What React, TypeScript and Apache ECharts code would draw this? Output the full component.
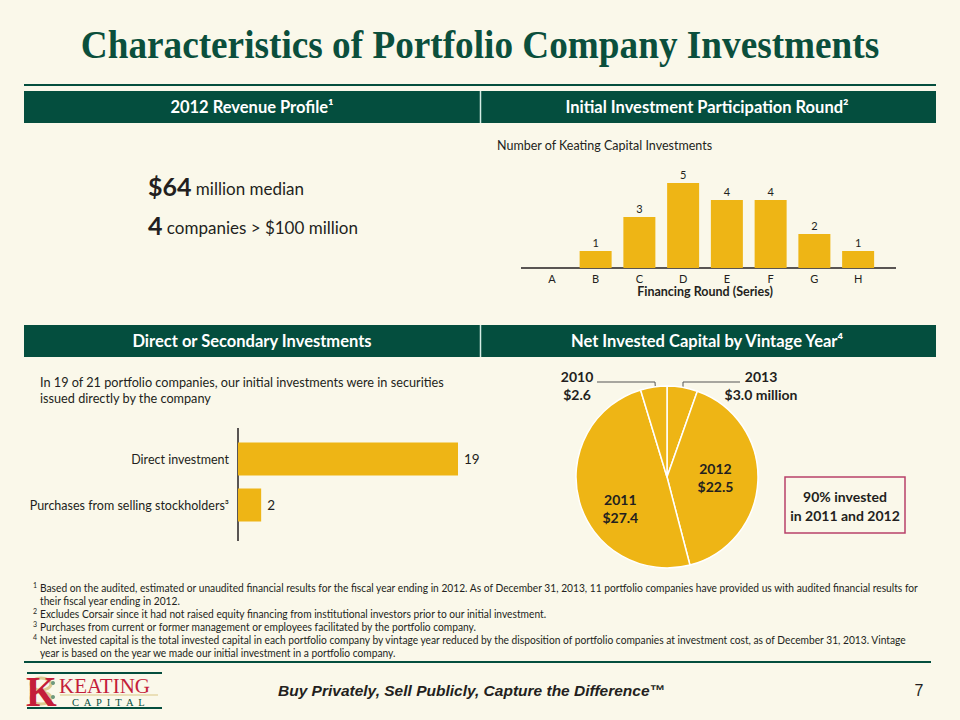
import React, { useEffect, useRef } from "react";
import * as echarts from "echarts";

// ---------- data ----------
const roundCategories = ["A", "B", "C", "D", "E", "F", "G", "H"];
const roundCounts = [0, 1, 3, 5, 4, 4, 2, 1];

const investTypeCategories = ["Direct investment", "Purchases from selling stockholders³"];
const investTypeCounts = [19, 2];

const vintageYears = ["2013", "2012", "2011", "2010"];
const vintageCapital = [3.0, 22.5, 27.4, 2.6];
const vintageLabels = ["$3.0 million", "$22.5", "$27.4", "$2.6"];

const footnoteLines = [
  { mark: "1", text: "Based on the audited, estimated or unaudited financial results for the fiscal year ending in 2012. As of December 31, 2013, 11 portfolio companies have provided us with audited financial results for" },
  { mark: "", text: "their fiscal year ending in 2012." },
  { mark: "2", text: "Excludes Corsair since it had not raised equity financing from institutional investors prior to our initial investment." },
  { mark: "3", text: "Purchases from current or former management or employees facilitated by the portfolio company." },
  { mark: "4", text: "Net invested capital is the total invested capital in each portfolio company by vintage year reduced by the disposition of portfolio companies at investment cost, as of December 31, 2013. Vintage" },
  { mark: "", text: "year is based on the year we made our initial investment in a portfolio company." },
];

// ---------- styles ----------
const BG = "#FAF8EA";
const GREEN = "#044E3E";
const TITLE_GREEN = "#0B4F3C";
const GOLD = "#EEB515";
const TEXT = "#231F20";
const RED = "#C41E3A";
const SANS = "Lato, 'Open Sans', sans-serif";
const SERIF = "'Liberation Serif', 'DejaVu Serif', serif";

const PIE_CX = 667;
const PIE_CY = 477;
const PIE_R = 91;

type TOpt = {
  size?: number; weight?: string; family?: string; fill?: string; align?: string;
  vAlign?: string; fontStyle?: string; scaleX?: number; rich?: any; lineHeight?: number;
};
const txt = (text: string, x: number, y: number, o: TOpt = {}) => ({
  type: "text",
  x,
  y,
  silent: true,
  scaleX: o.scaleX ?? 1,
  style: {
    text,
    fill: o.fill ?? TEXT,
    fontSize: o.size ?? 12,
    fontWeight: o.weight ?? "normal",
    fontStyle: o.fontStyle ?? "normal",
    fontFamily: o.family ?? SANS,
    textAlign: o.align ?? "left",
    textVerticalAlign: o.vAlign ?? "middle",
    align: o.align ?? "left",
    verticalAlign: o.vAlign ?? "middle",
    lineHeight: o.lineHeight,
    rich: o.rich,
  },
});
const hline = (x1: number, x2: number, y: number, color: string, w: number) => ({
  type: "line", silent: true, shape: { x1, y1: y, x2, y2: y }, style: { stroke: color, lineWidth: w },
});
const vline = (x: number, y1: number, y2: number, color: string, w: number) => ({
  type: "line", silent: true, shape: { x1: x, y1, x2: x, y2 }, style: { stroke: color, lineWidth: w },
});

export default function App() {
  const ref = useRef<HTMLDivElement>(null);

  useEffect(() => {
    document.body.style.margin = "0";
    document.body.style.background = BG;
    const chart = echarts.init(ref.current!, null, { renderer: "svg" });

    const graphics: any[] = [];
    // title
    graphics.push(txt("Characteristics of Portfolio Company Investments", 480, 45, {
      size: 39, weight: "bold", family: SERIF, fill: TITLE_GREEN, align: "center", scaleX: 0.955,
    }));
    // top rule
    graphics.push(hline(24, 936, 85, GREEN, 2));
    // header bars
    [91, 325].forEach((y) => {
      graphics.push({ type: "rect", silent: true, shape: { x: 24, y, width: 912, height: 32 }, style: { fill: GREEN } });
      graphics.push(vline(480.5, y, y + 32, "#D5ECE4", 1.5));
    });
    const hdr = { size: 16.5, weight: "bold", fill: "#fff", align: "center" };
    graphics.push(txt("2012 Revenue Profile¹", 252, 107, hdr));
    graphics.push(txt("Initial Investment Participation Round²", 707, 107, hdr));
    graphics.push(txt("Direct or Secondary Investments", 252, 341, hdr));
    graphics.push(txt("Net Invested Capital by Vintage Year⁴", 707, 341, hdr));

    // revenue profile
    const rich = {
      b: { fontSize: 25, fontWeight: "bold", fontFamily: SANS, fill: TEXT, color: TEXT },
      r: { fontSize: 17, fontFamily: SANS, fill: TEXT, color: TEXT, padding: [5, 0, 0, 0] },
    };
    graphics.push(txt("{b|$64}{r| million median}", 148, 186, { rich }));
    graphics.push(txt("{b|4}{r| companies > $100 million}", 148, 225, { rich }));

    // bar chart subtitle and axis
    graphics.push(txt("Number of Keating Capital Investments", 497, 145, { size: 12.5 }));
    graphics.push(hline(521, 896, 268, TEXT, 1.5));

    // direct / secondary
    graphics.push(txt("In 19 of 21 portfolio companies, our initial investments were in securities", 40, 382, { size: 12.7 }));
    graphics.push(txt("issued directly by the company", 40, 398, { size: 12.7 }));
    graphics.push(vline(238, 428, 541, TEXT, 1.5));

    // 90% box
    graphics.push({ type: "rect", silent: true, shape: { x: 785, y: 477, width: 120, height: 56 }, style: { fill: "none", stroke: "#B8406A", lineWidth: 1.5 } });
    graphics.push(txt("90% invested", 845, 496, { size: 14, weight: "bold", align: "center" }));
    graphics.push(txt("in 2011 and 2012", 845, 515, { size: 14, weight: "bold", align: "center" }));

    // footnotes
    footnoteLines.forEach((f, i) => {
      const y = 588 + i * 12.9;
      if (f.mark) graphics.push(txt(f.mark, 33, y - 3, { size: 7 }));
      graphics.push(txt(f.text, 40, y, { size: 11, scaleX: 0.93 }));
    });

    // footer rule
    graphics.push(hline(24, 931, 662, GREEN, 2));

    // logo
    graphics.push(hline(27, 162, 673, GREEN, 2));
    graphics.push(hline(27, 162, 708, GREEN, 2));
    graphics.push({ type: "ellipse", silent: true, shape: { cx: 41, cy: 684, rx: 10, ry: 6 }, style: { fill: "none", stroke: "#DCCB92", lineWidth: 3 } });
    graphics.push({ type: "ellipse", silent: true, shape: { cx: 41, cy: 698, rx: 10, ry: 6 }, style: { fill: "none", stroke: "#DCCB92", lineWidth: 3 } });
    graphics.push(txt("K", 26, 691, { size: 43, weight: "bold", family: SERIF, fill: RED, scaleX: 0.92, lineHeight: 30 }));
    graphics.push({ type: "circle", silent: true, shape: { cx: 53, cy: 683, r: 2 }, style: { fill: "#6E9A7E" } });
    graphics.push({ type: "circle", silent: true, shape: { cx: 53, cy: 697, r: 2 }, style: { fill: "#6E9A7E" } });
    graphics.push(txt("KEATING", 59, 686, { size: 21, family: SERIF, fill: RED, lineHeight: 16 }));
    graphics.push(hline(60, 158, 695, "#E4D7A6", 1.5));
    graphics.push(txt("C  A  P  I  T  A  L", 72, 702, { size: 10.5, family: SERIF, fill: GREEN, lineHeight: 9 }));

    // slogan & page number
    graphics.push(txt("Buy Privately, Sell Publicly, Capture the Difference™", 278, 690, {
      size: 15.5, weight: "bold", fontStyle: "italic", family: "'Liberation Sans', Arial, sans-serif",
    }));
    graphics.push(txt("7", 919, 690, { size: 16, family: "'Liberation Sans', Arial, sans-serif", align: "center" }));

    const option: any = {
      animation: false,
      backgroundColor: BG,
      textStyle: { fontFamily: SANS },
      grid: [
        { left: 530, top: 183, width: 350, height: 85 },
        { left: 238, top: 436, width: 220, height: 92 },
      ],
      xAxis: [
        {
          gridIndex: 0, type: "category", data: roundCategories,
          axisLine: { show: false }, axisTick: { show: false },
          axisLabel: { fontSize: 11, color: TEXT, margin: 5 },
          name: "Financing Round (Series)", nameLocation: "middle", nameGap: 17,
          nameTextStyle: { fontSize: 12.5, fontWeight: "bold", color: TEXT },
        },
        { gridIndex: 1, type: "value", min: 0, max: 19, show: false },
      ],
      yAxis: [
        { gridIndex: 0, type: "value", min: 0, max: 5, show: false },
        {
          gridIndex: 1, type: "category", data: investTypeCategories, inverse: true,
          axisLine: { show: false }, axisTick: { show: false },
          axisLabel: { fontSize: 12.5, color: TEXT, margin: 9 },
        },
      ],
      series: [
        {
          type: "bar", xAxisIndex: 0, yAxisIndex: 0, data: roundCounts, barWidth: 32,
          itemStyle: { color: GOLD }, silent: true,
          label: {
            show: true, position: "top", distance: 3, fontSize: 11, color: TEXT,
            formatter: (p: any) => (p.value ? String(p.value) : ""),
          },
        },
        {
          type: "bar", xAxisIndex: 1, yAxisIndex: 1, data: investTypeCounts, barWidth: 33,
          itemStyle: { color: GOLD }, silent: true,
          label: { show: true, position: "right", distance: 6, fontSize: 13.5, color: TEXT },
        },
        {
          type: "pie", center: [PIE_CX, PIE_CY], radius: PIE_R, startAngle: 90, clockwise: true,
          avoidLabelOverlap: false, silent: true,
          itemStyle: { color: GOLD, borderColor: "#ffffff", borderWidth: 1.5 },
          label: {
            show: true, position: "inside", fontSize: 14, fontWeight: "bold", color: TEXT, lineHeight: 18,
            formatter: (p: any) => `${p.name}\n${vintageLabels[p.dataIndex]}`,
          },
          labelLine: { show: false },
          data: vintageYears.map((y, i) => {
            const small = vintageCapital[i] < 5;
            return {
              name: y,
              value: vintageCapital[i],
              label: small ? { position: "outside" } : undefined,
              labelLine: small ? { show: true, lineStyle: { color: "#555", width: 1 } } : undefined,
            };
          }),
          labelLayout: (p: any) => {
            if (p.dataIndex === 0) {
              return {
                x: PIE_CX + 94, y: PIE_CY - 92, align: "center", verticalAlign: "middle",
                labelLinePoints: [[PIE_CX + 16, PIE_CY - 77], [PIE_CX + 16, PIE_CY - 95], [PIE_CX + 73, PIE_CY - 95]],
              };
            }
            if (p.dataIndex === 3) {
              return {
                x: PIE_CX - 90, y: PIE_CY - 92, align: "center", verticalAlign: "middle",
                labelLinePoints: [[PIE_CX - 11, PIE_CY - 77], [PIE_CX - 12, PIE_CY - 95], [PIE_CX - 70, PIE_CY - 95]],
              };
            }
            if (p.dataIndex === 2) return { dy: 18 };
            if (p.dataIndex === 1) return { dy: -2 };
            return {};
          },
        },
      ],
      graphic: { elements: graphics },
    };

    chart.setOption(option);
    return () => chart.dispose();
  }, []);

  return (
    <div
      ref={ref}
      style={{ position: "absolute", left: 0, top: 0, width: 960, height: 720, background: BG }}
    />
  );
}
